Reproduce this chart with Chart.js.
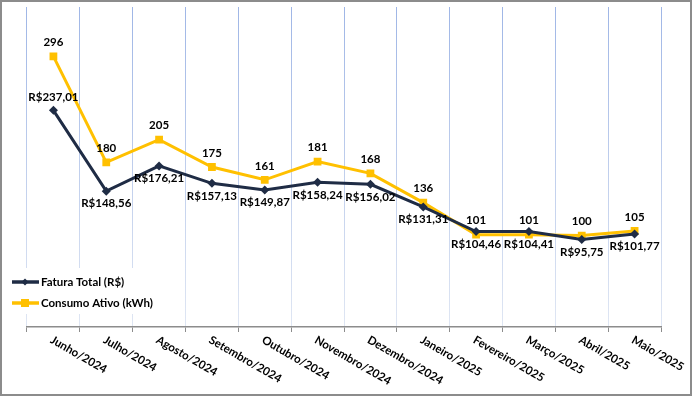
<!DOCTYPE html>
<html>
<head>
<meta charset="utf-8">
<script src="https://cdn.jsdelivr.net/npm/chart.js@4.4.1/dist/chart.umd.min.js"></script>
<style>
	html, body { margin: 0; padding: 0; background: #fff; }
	#wrap { width: 692px; height: 396px; position: relative; }
</style>
</head>
<body>
<div id="wrap"><canvas id="myChart" width="692" height="396"></canvas></div>
<script>
const months = ['Junho/2024','Julho/2024','Agosto/2024','Setembro/2024','Outubro/2024','Novembro/2024',
	'Dezembro/2024','Janeiro/2025','Fevereiro/2025','Março/2025','Abril/2025','Maio/2025'];
const fatura = [237.01, 148.56, 176.21, 157.13, 149.87, 158.24, 156.02, 131.31, 104.46, 104.41, 95.75, 101.77];
const consumo = [296, 180, 205, 175, 161, 181, 168, 136, 101, 101, 100, 105];

const NAVY = '#1f2c45';
const GOLD = '#ffc000';
const FONT = 'Lato, "Open Sans", sans-serif';

function brl(v){
	return 'R$' + v.toFixed(2).replace('.', ',');
}

// gradiente das linhas de grade (mais forte em cima)
function gridColor(context){
	const chart = context.chart;
	const area = chart.chartArea;
	if (!area) {
		return '#b4c7e7';
	}
	const g = chart.ctx.createLinearGradient(0, area.top, 0, area.bottom);
	g.addColorStop(0, '#9fb6e6');
	g.addColorStop(1, '#dfe6f3');
	return g;
}

// borda externa, rótulos de dados, rótulos do eixo x e legenda
const extras = {
	id: 'extras',
	afterDraw(chart){
		const c = chart.ctx;
		const x = chart.scales.x;
		c.save();
		c.strokeStyle = '#8c8c8c';
		c.lineWidth = 2;
		c.strokeRect(1, 1, chart.width - 2, chart.height - 2);

		c.fillStyle = '#000';
		c.font = 'bold 11.5px ' + FONT;
		c.textAlign = 'center';
		c.textBaseline = 'middle';
		chart.getDatasetMeta(1).data.forEach((p, i) => {
			c.fillText(consumo[i], p.x, p.y - 14);
		});
		chart.getDatasetMeta(0).data.forEach((p, i) => {
			const dy = i === 0 ? -13 : 12.5;
			c.fillText(brl(fatura[i]), p.x, p.y + dy);
		});

		// rótulos girados
		c.textAlign = 'left';
		c.textBaseline = 'middle';
		c.font = 'bold 11.5px ' + FONT;
		months.forEach((m, i) => {
			c.save();
			c.translate(x.getPixelForValue(i) - 2, chart.chartArea.bottom + 12);
			c.rotate(30 * Math.PI / 180);
			c.fillText(m, 0, 0);
			c.restore();
		});

		// legenda (fundo branco sobre a grade)
		c.fillStyle = '#fff';
		c.fillRect(8, 268, 146, 46);
		c.font = 'bold 11.5px ' + FONT;
		const items = [
			{ y: 282, color: NAVY, text: 'Fatura Total (R$)', shape: 'diamond' },
			{ y: 303, color: GOLD, text: 'Consumo Ativo (kWh)', shape: 'square' }
		];
		items.forEach(it => {
			c.strokeStyle = it.color;
			c.fillStyle = it.color;
			c.lineWidth = 3.5;
			c.beginPath();
			c.moveTo(12, it.y);
			c.lineTo(39, it.y);
			c.stroke();
			if (it.shape === 'diamond') {
				c.beginPath();
				c.moveTo(25, it.y - 3.5);
				c.lineTo(28.5, it.y);
				c.lineTo(25, it.y + 3.5);
				c.lineTo(21.5, it.y);
				c.closePath();
				c.fill();
			} else {
				c.fillRect(21, it.y - 4, 8, 8);
			}
			c.fillStyle = '#000';
			c.fillText(it.text, 41, it.y);
		});
		c.restore();
	}
};

const ctx = document.getElementById('myChart').getContext('2d');
const myChart = new Chart(ctx, {
	type: 'line',
	data: {
		labels: months,
		datasets: [{
			label: 'Fatura Total (R$)',
			data: fatura,
			borderColor: NAVY,
			backgroundColor: NAVY,
			borderWidth: 3,
			pointStyle: 'rectRot',
			pointRadius: 4.5,
			pointBorderWidth: 0,
			tension: 0
		}, {
			label: 'Consumo Ativo (kWh)',
			data: consumo,
			borderColor: GOLD,
			backgroundColor: GOLD,
			borderWidth: 3,
			pointStyle: 'rect',
			pointRadius: 5.5,
			pointBorderWidth: 0,
			tension: 0
		}]
	},
	options: {
		responsive: false,
		animation: false,
		layout: { padding: { left: 27, right: 31, top: 7, bottom: 64 } },
		plugins: {
			legend: { display: false },
			tooltip: { enabled: false }
		},
		scales: {
			x: {
				offset: true,
				grid: {
					offset: true,
					color: gridColor,
					lineWidth: 1,
					drawTicks: true,
					tickLength: 5,
					tickColor: '#8c8c8c'
				},
				border: { color: '#8c8c8c', width: 1.5 },
				ticks: { display: false }
			},
			y: {
				display: false,
				min: 0,
				max: 350
			}
		}
	},
	plugins: [extras]
});
</script>
</body>
</html>
